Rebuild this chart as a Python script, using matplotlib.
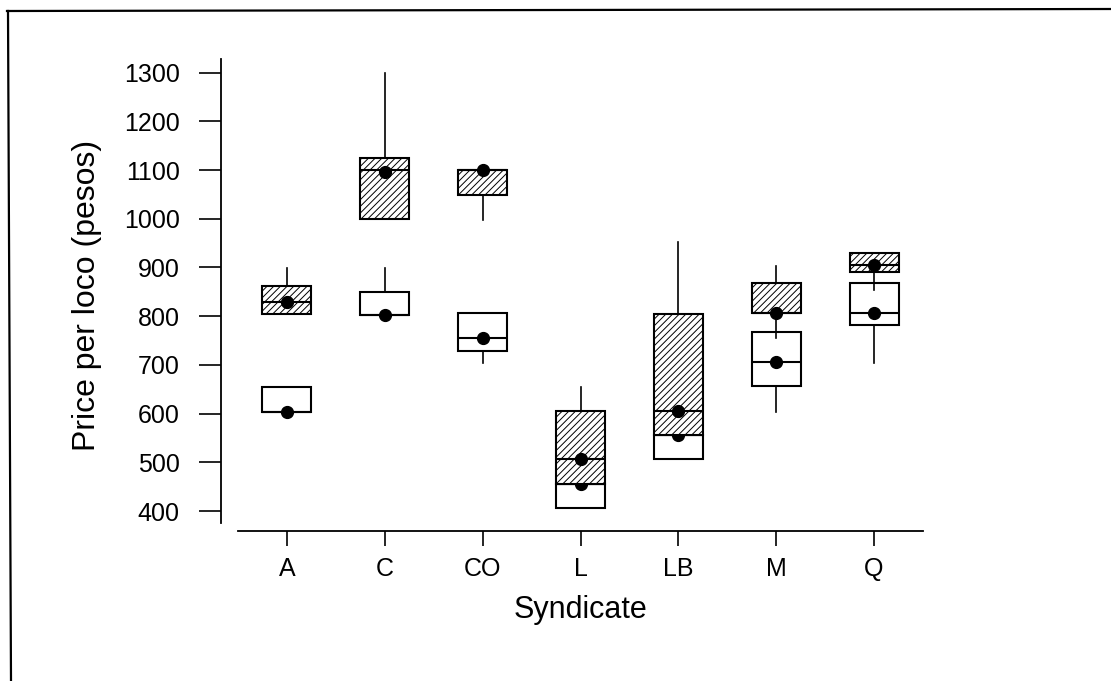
import matplotlib
matplotlib.use("Agg")
import matplotlib.pyplot as plt
from matplotlib.lines import Line2D

plt.rcParams["font.family"] = ["Liberation Sans", "DejaVu Sans"]
plt.rcParams["hatch.linewidth"] = 0.7

syndicates = ["A", "C", "CO", "L", "LB", "M", "Q"]

# hatched boxes
hat_q1 = [804, 1000, 1049, 455, 556, 807, 891]
hat_med = [829, 1100, 1100, 507, 605, 807, 905]
hat_q3 = [862, 1125, 1100, 605, 805, 868, 930]
hat_lo = [804, 1000, 998, 455, 556, 755, 854]
hat_hi = [899, 1300, 1100, 655, 953, 903, 930]
hat_mean = [829, 1097, 1100, 507, 605, 807, 905]

# white boxes
wht_q1 = [603, 803, 728, 406, 507, 657, 782]
wht_med = [603, 803, 755, 455, 556, 706, 807]
wht_q3 = [655, 850, 806, 455, 556, 768, 868]
wht_lo = [603, 803, 704, 406, 507, 603, 704]
wht_hi = [655, 899, 806, 455, 556, 768, 868]
wht_mean = [603, 803, 755, 455, 556, 706, 807]


def make_stats(q1, med, q3, lo, hi, mean):
    return [dict(q1=a, med=b, q3=c, whislo=d, whishi=e, mean=f, fliers=[])
            for a, b, c, d, e, f in zip(q1, med, q3, lo, hi, mean)]


fig = plt.figure(figsize=(11.11, 6.81), dpi=100)
ax = fig.add_axes([238 / 1111, 150 / 681, 685 / 1111, 472 / 681])

positions = list(range(1, len(syndicates) + 1))
common = dict(positions=positions, widths=0.5, showcaps=False, showfliers=False,
              showmeans=True, patch_artist=True,
              whiskerprops=dict(color="black", linewidth=1.2),
              medianprops=dict(color="black", linewidth=1.5),
              meanprops=dict(marker="o", markerfacecolor="black",
                             markeredgecolor="black", markersize=8.5))

ax.bxp(make_stats(wht_q1, wht_med, wht_q3, wht_lo, wht_hi, wht_mean),
       boxprops=dict(facecolor="white", edgecolor="black", linewidth=1.5),
       zorder=2, **common)
ax.bxp(make_stats(hat_q1, hat_med, hat_q3, hat_lo, hat_hi, hat_mean),
       boxprops=dict(facecolor="white", edgecolor="black", linewidth=1.5,
                     hatch="/////"),
       zorder=3, **common)

ax.set_xlim(0.5, 7.5)
ax.set_ylim(359, 1328)
ax.set_xticks(positions)
ax.set_xticklabels(syndicates)
ax.set_yticks(range(400, 1301, 100))

for s in ["top", "right"]:
    ax.spines[s].set_visible(False)
ax.spines["left"].set_position(("outward", 12))
ax.spines["left"].set_bounds(375, 1328)
ax.spines["left"].set_linewidth(1.3)
ax.spines["bottom"].set_linewidth(1.3)

ax.tick_params(axis="y", length=16, width=1.2, pad=14, labelsize=18)
ax.tick_params(axis="x", length=11, width=1.2, pad=8, labelsize=18)

ax.set_xlabel("Syndicate", fontsize=22, labelpad=10)
ax.set_ylabel("Price per loco (pesos)", fontsize=23, labelpad=16)

# scanned page frame
fig.add_artist(Line2D([7 / 1111, 1], [1 - 11 / 681, 1 - 9 / 681],
                      transform=fig.transFigure, color="black", linewidth=1.6))
fig.add_artist(Line2D([8 / 1111, 11 / 1111], [1 - 11 / 681, 0],
                      transform=fig.transFigure, color="black", linewidth=1.6))

fig.savefig("out.png", dpi=100)
